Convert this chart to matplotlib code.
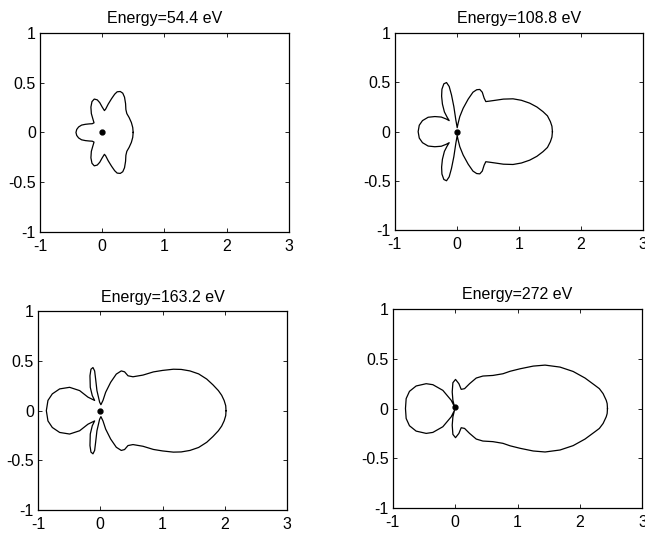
import numpy as np
import matplotlib.pyplot as plt

plt.rc('font', family='Liberation Sans', size=11.5)

titles = ["Energy=54.4 eV", "Energy=108.8 eV", "Energy=163.2 eV", "Energy=272 eV"]

# upper half of each curve, traced from right (theta=0) to left (theta=180)
x1 = [0.497, 0.49, 0.468, 0.432, 0.395, 0.38, 0.375, 0.358, 0.33, 0.29, 0.24, 0.2, 0.15,
      0.096, 0.055, 0.035, 0.0, -0.04, -0.08, -0.128, -0.165, -0.182, -0.175, -0.15,
      -0.132, -0.16, -0.21, -0.27, -0.332, -0.38, -0.41, -0.422]
y1 = [0.0, 0.05, 0.1, 0.15, 0.19, 0.23, 0.29, 0.355, 0.395, 0.412, 0.409, 0.385, 0.34,
      0.285, 0.235, 0.22, 0.255, 0.3, 0.328, 0.336, 0.31, 0.255, 0.19, 0.135,
      0.097, 0.088, 0.086, 0.082, 0.074, 0.055, 0.03, 0.0]

x2 = [1.54, 1.532, 1.507, 1.46, 1.388, 1.29, 1.174, 1.04, 0.905, 0.75, 0.62, 0.53,
      0.467, 0.44, 0.41, 0.37, 0.32, 0.26, 0.183, 0.102, 0.048, 0.021, 0.006, -0.016,
      -0.048, -0.086, -0.123, -0.166, -0.209, -0.24, -0.245, -0.232, -0.2, -0.156,
      -0.123, -0.17, -0.25, -0.354, -0.462, -0.553, -0.605, -0.623]
y2 = [0.0, 0.055, 0.102, 0.16, 0.203, 0.25, 0.289, 0.318, 0.333, 0.33, 0.318, 0.31,
      0.305, 0.34, 0.4, 0.428, 0.425, 0.4, 0.33, 0.237, 0.153, 0.085, 0.04, 0.119,
      0.254, 0.373, 0.458, 0.498, 0.485, 0.43, 0.36, 0.28, 0.2, 0.146,
      0.112, 0.128, 0.148, 0.153, 0.146, 0.112, 0.065, 0.0]

x3 = [2.02, 2.015, 1.99, 1.95, 1.897, 1.81, 1.71, 1.58, 1.44, 1.30, 1.174, 1.0, 0.853,
      0.685, 0.525, 0.445, 0.39, 0.337, 0.257, 0.166, 0.086, 0.043, 0.01, -0.011,
      -0.054, -0.075, -0.091, -0.118, -0.15, -0.166, -0.161, -0.129, -0.091, -0.198,
      -0.332, -0.493, -0.653, -0.771, -0.841, -0.867]
y3 = [0.0, 0.05, 0.102, 0.155, 0.202, 0.26, 0.318, 0.37, 0.40, 0.415, 0.417, 0.405, 0.39,
      0.358, 0.341, 0.351, 0.391, 0.40, 0.368, 0.285, 0.185, 0.103, 0.06, 0.086,
      0.202, 0.318, 0.40, 0.434, 0.417, 0.351, 0.235, 0.152, 0.103, 0.136,
      0.202, 0.235, 0.219, 0.169, 0.103, 0.0]

x4 = [2.44, 2.435, 2.42, 2.37, 2.31, 2.24, 2.16, 2.08, 1.89, 1.68, 1.44, 1.25, 1.04,
      0.88, 0.765, 0.604, 0.444, 0.337, 0.23, 0.15, 0.096, 0.059, 0.005, -0.037,
      -0.048, -0.037, -0.011, -0.064, -0.198, -0.358, -0.465, -0.626, -0.733, -0.786,
      -0.797]
y4 = [0.0, 0.05, 0.083, 0.15, 0.2, 0.233, 0.27, 0.307, 0.373, 0.417, 0.437, 0.427, 0.40,
      0.375, 0.35, 0.333, 0.327, 0.307, 0.25, 0.20, 0.193, 0.25, 0.293, 0.26,
      0.167, 0.083, 0.017, 0.083, 0.183, 0.24, 0.25, 0.227, 0.173, 0.10,
      0.0]

dot_y = [0.0, 0.0, 0.0, 0.02]

xs = [x1, x2, x3, x4]
ys = [y1, y2, y3, y4]

# axes boxes in figure fractions [left, bottom, width, height]
boxes = [[0.062, 0.565, 0.386, 0.373],
         [0.612, 0.568, 0.385, 0.370],
         [0.059, 0.043, 0.386, 0.373],
         [0.609, 0.047, 0.387, 0.373]]

fig = plt.figure(figsize=(6.45, 5.33), dpi=100)
for i in range(4):
    ax = fig.add_axes(boxes[i])
    x = np.array(xs[i])
    y = np.array(ys[i])
    # mirror the upper half to close the curve
    xx = np.concatenate([x, x[::-1]])
    yy = np.concatenate([y, -y[::-1]])
    ax.plot(xx, yy, color='black', lw=0.9)
    ax.plot(0, dot_y[i], 'o', color='black', ms=3.5)
    ax.set_xlim(-1, 3)
    ax.set_ylim(-1, 1)
    ax.set_xticks([-1, 0, 1, 2, 3])
    ax.set_yticks([-1, -0.5, 0, 0.5, 1])
    ax.set_xticklabels(['-1', '0', '1', '2', '3'])
    ax.set_yticklabels(['-1', '-0.5', '0', '0.5', '1'])
    ax.tick_params(direction='in', top=True, right=True, length=3, width=0.6, pad=3)
    ax.tick_params(axis='x', pad=5)
    for s in ax.spines.values():
        s.set_linewidth(0.9)
    ax.set_title(titles[i], fontsize=11.5, pad=7)

plt.savefig("out.png", dpi=100)
